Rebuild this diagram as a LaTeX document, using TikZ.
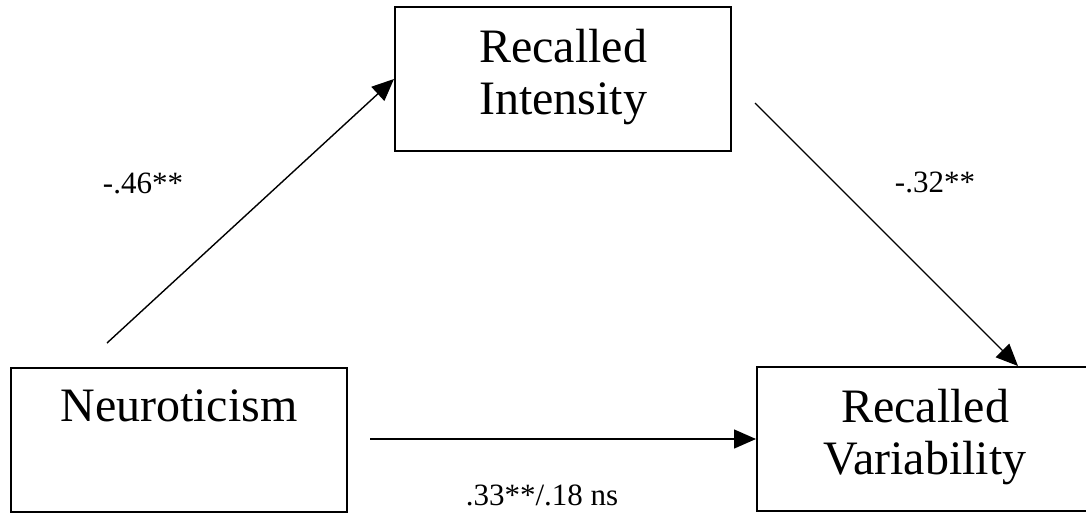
\documentclass[tikz,border=0pt]{standalone}
\usepackage{fontspec}
\setmainfont{Liberation Serif}
\usetikzlibrary{arrows.meta}
\newcommand{\vartext}[1]{\parbox[c][50pt][t]{168pt}{\centering #1}}

\begin{document}
\begin{tikzpicture}[x=0.5pt,y=-0.5pt,
  varbox/.style={draw,line width=1pt,inner xsep=0pt,inner ysep=11pt,font=\fontsize{24}{26}\selectfont},
  arrowline/.style={-{Triangle[length=11pt,width=9.5pt]},line width=0.7pt},
  coef/.style={font=\fontsize{15.5}{18}\selectfont}]
\useasboundingbox (0,0) rectangle (1086,515);
\node [varbox] (ri) at (563,79) {\vartext{Recalled\\Intensity}};
\node [varbox] (neu) at (179,440) {\vartext{Neuroticism}};
\node [varbox] (rv) at (925,439) {\vartext{Recalled\\Variability}};
\coordinate (a0) at (107,343);
\coordinate (b0) at (755,103);
\coordinate (c0) at (370,439);
\draw [arrowline] (a0) -- (ri.west);
\draw [arrowline] (b0) -- ([xshift=46.5pt]rv.north);
\draw [arrowline] (c0) -- (rv.west);
\node [coef] (coefa) at (143,183) {-.46**};
\node [coef] (coefb) at (935,182) {-.32**};
\node [coef] (coefc) at (542,495) {.33**/.18 ns};
\end{tikzpicture}
\end{document}
